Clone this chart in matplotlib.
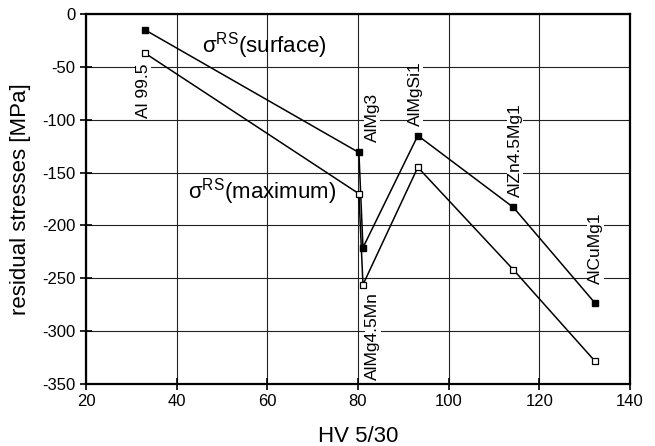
import numpy as np
import matplotlib
matplotlib.use("Agg")
import matplotlib.pyplot as plt

plt.rcParams['font.family'] = ['Liberation Sans', 'DejaVu Sans']
plt.rcParams['mathtext.fontset'] = 'custom'
plt.rcParams['mathtext.rm'] = 'Liberation Sans'
plt.rcParams['mathtext.it'] = 'Liberation Sans'
plt.rcParams['axes.unicode_minus'] = False

# data
alloys = ["Al 99.5", "AlMg3", "AlMg4.5Mn", "AlMgSi1", "AlZn4.5Mg1", "AlCuMg1"]
hv = [33, 80.2, 81.1, 93.2, 114.3, 132.2]
rs_surface = [-15, -131, -221, -115, -183, -273]
rs_maximum = [-37, -170, -256, -145, -242, -328]

# label positions (x, y centre) for the alloy names
label_x = [32.6, 83.1, 83.3, 92.6, 114.7, 132.4]
label_y = [-73, -98, -305, -75, -129, -222]

fig = plt.figure(figsize=(6.55, 4.46), dpi=100)
ax = fig.add_axes([0.1313, 0.139, 0.8305, 0.8296])

ax.plot(hv, rs_surface, '-s', color='k', lw=1.1, ms=4.5,
        mfc='k', mec='k', zorder=3)
ax.plot(hv, rs_maximum, '-s', color='k', lw=1.1, ms=4.5,
        mfc='white', mec='k', mew=0.9, zorder=3)

for name, lx, ly in zip(alloys, label_x, label_y):
    ax.text(lx, ly, name, rotation=90, ha='center', va='center',
            fontsize=12.5, zorder=4,
            bbox=dict(facecolor='white', edgecolor='none', pad=0.5))

ax.text(45.5, -30, r'σ$^{\mathrm{RS}}$(surface)', fontsize=16,
        ha='left', va='center', zorder=4)
ax.text(42.5, -168, r'σ$^{\mathrm{RS}}$(maximum)', fontsize=16,
        ha='left', va='center', zorder=4)

ax.set_xlim(20, 140)
ax.set_ylim(-350, 0)
ax.set_xticks(np.arange(20, 141, 20))
ax.set_yticks(np.arange(-350, 1, 50))
ax.grid(True, color='#222222', lw=0.8)
ax.set_axisbelow(True)

for s in ax.spines.values():
    s.set_linewidth(1.6)

ax.tick_params(direction='inout', length=9, width=1.2, labelsize=12, pad=3)
ax.set_xlabel("HV 5/30", fontsize=16, labelpad=12)
ax.set_ylabel("residual stresses [MPa]", fontsize=16, labelpad=8)

fig.savefig("out.png", dpi=100)
